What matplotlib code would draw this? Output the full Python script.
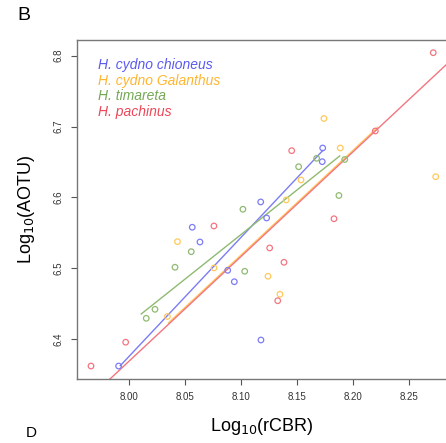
import numpy as np
import matplotlib
matplotlib.use("Agg")
import matplotlib.pyplot as plt

plt.rcParams['font.family'] = ['Liberation Sans', 'DejaVu Sans']

# log10(rCBR), log10(AOTU) per species
chi_x = [7.9905, 8.0563, 8.0632, 8.0880, 8.0939, 8.1175, 8.1177, 8.1228, 8.1729, 8.1725]
chi_y = [6.3623, 6.5580, 6.5372, 6.4973, 6.4812, 6.5937, 6.3990, 6.5711, 6.6698, 6.6505]
gal_x = [8.0341, 8.0431, 8.0757, 8.1240, 8.1347, 8.1403, 8.1535, 8.1740, 8.1886, 8.2739]
gal_y = [6.4322, 6.5377, 6.5006, 6.4889, 6.4635, 6.5965, 6.6247, 6.7114, 6.6698, 6.6293]
tim_x = [8.0152, 8.0230, 8.0409, 8.0554, 8.1016, 8.1032, 8.1514, 8.1675, 8.1874, 8.1926]
tim_y = [6.4296, 6.4423, 6.5016, 6.5236, 6.5834, 6.4959, 6.6434, 6.6553, 6.6028, 6.6536]
pac_x = [7.9658, 7.9968, 8.0757, 8.1255, 8.1327, 8.1383, 8.1452, 8.1830, 8.2199, 8.2717]
pac_y = [6.3623, 6.3959, 6.5598, 6.5288, 6.4544, 6.5086, 6.6660, 6.5700, 6.6938, 6.8042]

species = ["H. cydno chioneus", "H. cydno Galanthus", "H. timareta", "H. pachinus"]
text_cols = ["#5a5af0", "#ffb52e", "#74a855", "#ee4656"]
pt_cols = ["#7c7cf5", "#ffc95a", "#8fba72", "#f27680"]

# fitted lines: slope, intercept, x range
fit_slope = [1.677, 1.475, 1.256, 1.475]
fit_icpt = [6.3628 - 1.677 * 7.992, -5.4285, 6.4357 - 1.256 * 8.0107, -5.4306]
fit_x0 = [7.992, 8.035, 8.0107, 7.9533]
fit_x1 = [8.1731, 8.222, 8.1881, 8.284]

xs = [chi_x, gal_x, tim_x, pac_x]
ys = [chi_y, gal_y, tim_y, pac_y]

fig = plt.figure(figsize=(4.46, 4.43), dpi=100)
ax = fig.add_axes([77 / 446, 64 / 443, 370 / 446, 339 / 443])

for i in range(4):
    ax.scatter(xs[i], ys[i], s=16, facecolors='none', edgecolors=pt_cols[i],
               linewidths=0.9, zorder=3)

for i in [0, 2, 1, 3]:
    lx = np.array([fit_x0[i], fit_x1[i]])
    ax.plot(lx, fit_slope[i] * lx + fit_icpt[i], color=pt_cols[i], lw=1.0, zorder=2)

ax.set_xlim(7.9533, 8.284)
ax.set_ylim(6.344, 6.8221)
ax.set_xticks([8.00, 8.05, 8.10, 8.15, 8.20, 8.25])
ax.set_xticklabels(["8.00", "8.05", "8.10", "8.15", "8.20", "8.25"])
ax.set_yticks([6.4, 6.5, 6.6, 6.7, 6.8])
ax.set_yticklabels(["6.4", "6.5", "6.6", "6.7", "6.8"], rotation=90, va='center')
ax.tick_params(labelsize=7, length=4.5, width=0.8, color='#555555',
               labelcolor='#333333', pad=5)
for s in ax.spines.values():
    s.set_color('#777777')
    s.set_linewidth(1.0)

ax.set_xlabel(r"Log$_{10}$(rCBR)", fontsize=13, labelpad=10)
ax.set_ylabel(r"Log$_{10}$(AOTU)", fontsize=13, labelpad=12)

for i, name in enumerate(species):
    ax.text((98 - 77) / 370, 1 - (65 - 40 + i * 15.7) / 339, name,
            transform=ax.transAxes, color=text_cols[i], fontsize=10,
            style='italic', va='center', ha='left')

fig.text(17 / 446, 1 - 15 / 443, "B", fontsize=14, va='center', ha='left')
fig.text(26 / 446, 1 - 440 / 443, "D", fontsize=11, va='bottom', ha='left')

fig.savefig("out.png", dpi=100)
